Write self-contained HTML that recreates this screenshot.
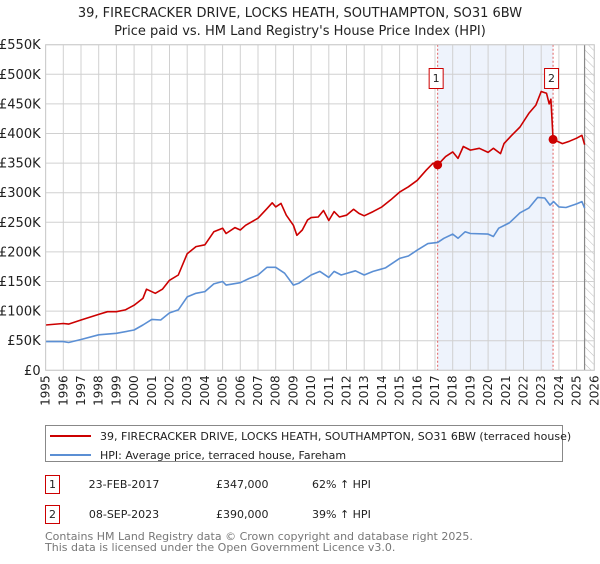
<!DOCTYPE html>
<html><head><meta charset="utf-8">
<style>
body{margin:0;background:#fff;font-family:"DejaVu Sans","Liberation Sans",sans-serif;}
svg text{font-family:"DejaVu Sans","Liberation Sans",sans-serif;}
</style></head>
<body>
<svg width="600" height="560" viewBox="0 0 600 560" xmlns="http://www.w3.org/2000/svg">
<defs>
<pattern id="hatch" width="6" height="6" patternUnits="userSpaceOnUse" patternTransform="rotate(-45)">
<line x1="0" y1="0" x2="0" y2="6" stroke="#bbb" stroke-width="1"/>
</pattern>
</defs>
<text x="300" y="17" text-anchor="middle" font-size="13" fill="#222">39, FIRECRACKER DRIVE, LOCKS HEATH, SOUTHAMPTON, SO31 6BW</text>
<text x="300" y="35" text-anchor="middle" font-size="13" fill="#222">Price paid vs. HM Land Registry's House Price Index (HPI)</text>
<g id="plot"></g>
<g>
<rect x="45.5" y="425.5" width="517" height="36" fill="#fff" stroke="#888"/>
<line x1="50" y1="436" x2="91" y2="436" stroke="#cc0000" stroke-width="2"/>
<text x="100" y="440" font-size="11" fill="#222">39, FIRECRACKER DRIVE, LOCKS HEATH, SOUTHAMPTON, SO31 6BW (terraced house)</text>
<line x1="50" y1="455" x2="91" y2="455" stroke="#5b8fd4" stroke-width="2"/>
<text x="100" y="459" font-size="11" fill="#222">HPI: Average price, terraced house, Fareham</text>
</g>
<g font-size="11" fill="#222">
<rect x="45.5" y="475.5" width="14" height="18" fill="#fff" stroke="#cc0000"/>
<text x="52.5" y="488" text-anchor="middle">1</text>
<text x="124" y="488" text-anchor="middle">23-FEB-2017</text>
<text x="216" y="488">£347,000</text>
<text x="312" y="488">62% ↑ HPI</text>
<rect x="45.5" y="505.5" width="14" height="18" fill="#fff" stroke="#cc0000"/>
<text x="52.5" y="518" text-anchor="middle">2</text>
<text x="124" y="518" text-anchor="middle">08-SEP-2023</text>
<text x="216" y="518">£390,000</text>
<text x="312" y="518">39% ↑ HPI</text>
</g>
<text x="45" y="540" font-size="11" fill="#777">Contains HM Land Registry data © Crown copyright and database right 2025.</text>
<text x="45" y="551" font-size="11" fill="#777">This data is licensed under the Open Government Licence v3.0.</text>
</svg>
<script>
const yTicks=[0,50000,100000,150000,200000,250000,300000,350000,400000,450000,500000,550000];
const yTickLabels=["£0","£50K","£100K","£150K","£200K","£250K","£300K","£350K","£400K","£450K","£500K","£550K"];
const xYears=[1995,1996,1997,1998,1999,2000,2001,2002,2003,2004,2005,2006,2007,2008,2009,2010,2011,2012,2013,2014,2015,2016,2017,2018,2019,2020,2021,2022,2023,2024,2025,2026];
const propT=[1995,1996,1996.3,1997,1998,1998.5,1999,1999.5,2000,2000.5,2000.7,2001.2,2001.6,2002,2002.5,2003,2003.5,2004,2004.5,2005,2005.2,2005.7,2006,2006.3,2007,2007.5,2007.8,2008,2008.3,2008.6,2009,2009.2,2009.5,2009.8,2010,2010.4,2010.7,2011,2011.3,2011.6,2012,2012.4,2012.7,2013,2013.5,2014,2014.5,2015,2015.5,2016,2016.5,2016.9,2017.15,2017.6,2018,2018.3,2018.6,2019,2019.5,2020,2020.3,2020.7,2020.9,2021.3,2021.8,2022.3,2022.7,2023.0,2023.3,2023.45,2023.55,2023.67,2024.2,2024.6,2025.0,2025.3,2025.45];
const propV=[76.6,79,78,85,94.5,99,99,102,110,121.5,137,130,137,152,161,197,209,212,234,240,231,241,237,245,257,273,283,276,282,262,245,228,237,254,258,259,270,253,268,259,262,272,265,261,268,276,288,301,310,321,338,350,347,361,369,358,378,372,375,368,375,366,383,396,411,434,448,471,468,450,458,390,383,387,392,397,381];
const hpiT=[1995,1996,1996.3,1997,1998,1999,2000,2000.5,2001,2001.5,2002,2002.5,2003,2003.5,2004,2004.5,2005,2005.2,2006,2006.5,2007,2007.5,2008,2008.5,2009,2009.3,2010,2010.5,2011,2011.3,2011.7,2012.5,2013,2013.5,2014.2,2015,2015.5,2016,2016.6,2017.15,2017.5,2018,2018.3,2018.7,2019,2020,2020.3,2020.6,2021.2,2021.8,2022.3,2022.8,2023.2,2023.5,2023.7,2024,2024.4,2025.0,2025.3,2025.45];
const hpiV=[48.4,48.4,47,52,60,62.5,68,76.6,86,85,97,102,124,130,133,146,150,144,148,155,161,174,174,164,144,147,161,167,157,167,161,168,161,167,173,189,193,203,214,216,223,230,223,234,231,230,226,240,249,266,274,292,291,279,285,276,275,281,285,274];
const saleT=[2017.15,2023.67];
const saleV=[347,390];
const saleLabels=["1","2"];

const NS="http://www.w3.org/2000/svg";
const X0=45.6,PX=17.7,Y0=370.3,Y1=44.7,VMAX=550000;
function xs(t){return X0+(t-1995)*PX;}
function ys(v){return Y0-(v/VMAX)*(Y0-Y1);}
const g=document.getElementById('plot');
function mk(tag,attrs){const e=document.createElementNS(NS,tag);for(const k in attrs)e.setAttribute(k,attrs[k]);g.appendChild(e);return e;}
const L=xs(1995),R=xs(2026),T=ys(550000),B=ys(0);
let bg=mk('rect',{x:L,y:T,width:R-L,height:B-T,fill:'#fff'});


let sh=mk('rect',{x:xs(saleT[0]),y:T,width:xs(saleT[1])-xs(saleT[0]),height:B-T,fill:'#eef3fc'});


let ht=mk('rect',{x:xs(2025.45),y:T,width:R-xs(2025.45),height:B-T,fill:'url(#hatch)'});


xYears.forEach(yr=>{
  const l=mk('line',{x1:xs(yr),x2:xs(yr),y1:T,y2:B,stroke:'#d0d0d0','stroke-width':1});
  
  
  const t=mk('text',{x:0,y:0,'font-size':12,fill:'#222','text-anchor':'end',transform:`translate(${xs(yr)+4},${B+5}) rotate(-90)`});
  t.textContent=yr;
  
  
});
yTicks.forEach((v,i)=>{
  const l=mk('line',{x1:L,x2:R,y1:ys(v),y2:ys(v),stroke:'#d0d0d0','stroke-width':1});
  
  
  const t=mk('text',{x:L-5,y:ys(v)+4.5,'font-size':13,fill:'#222','text-anchor':'end'});
  t.textContent=yTickLabels[i];
  
  
});
let nl=mk('line',{x1:xs(2025.45),x2:xs(2025.45),y1:T,y2:B,stroke:'#888','stroke-width':1.2});


saleT.forEach((t,i)=>{
  const l=mk('line',{x1:xs(t),x2:xs(t),y1:T,y2:B,stroke:'#e06060','stroke-width':1,'stroke-dasharray':'2,2'});
  
  
});
function path(ts,vs,color,name){
  let d=ts.map((t,i)=>(i?'L':'M')+xs(t).toFixed(1)+','+ys(vs[i]*1000).toFixed(1)).join(' ');
  const p=mk('path',{d:d,fill:'none',stroke:color,'stroke-width':1.6,'stroke-linejoin':'round'});
  
  
}
path(hpiT,hpiV,'#5b8fd4','hpi-line');
path(propT,propV,'#cc0000','property-line');
saleT.forEach((t,i)=>{
  const c=mk('circle',{cx:xs(t),cy:ys(saleV[i]*1000),r:4.5,fill:'#cc0000'});
  
  
  const r=mk('rect',{x:xs(t)-8.5,y:68.5,width:14,height:20,fill:'#fff',stroke:'#cc0000'});
  
  
  const tx=mk('text',{x:xs(t)-1.5,y:82,'font-size':11,fill:'#222','text-anchor':'middle'});
  tx.textContent=saleLabels[i];
  
  
});
let fr=mk('rect',{x:L,y:T,width:R-L,height:B-T,fill:'none',stroke:'#ccc'});


</script>
</body></html>
